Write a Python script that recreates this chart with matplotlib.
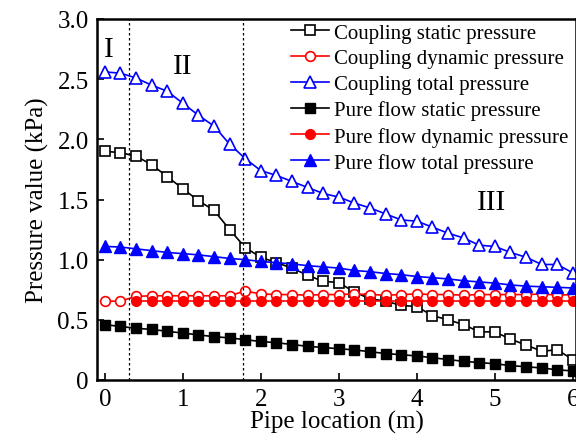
import numpy as np
import matplotlib
matplotlib.use("Agg")
import matplotlib.pyplot as plt

plt.rcParams['font.family'] = ['Liberation Serif', 'DejaVu Serif']

# pipe location (m), every 0.2 m
x = np.arange(31) * 0.2

coup_static = [1.90, 1.89, 1.86, 1.79, 1.69, 1.59, 1.49, 1.41, 1.25, 1.10,
               1.02, 0.975, 0.93, 0.87, 0.82, 0.81, 0.73, 0.675, 0.655, 0.62,
               0.61, 0.535, 0.50, 0.46, 0.40, 0.40, 0.34, 0.29, 0.24, 0.25, 0.17]
coup_dynamic = [0.655, 0.655, 0.695, 0.70, 0.70, 0.70, 0.70, 0.70, 0.70, 0.74,
                0.715, 0.71, 0.71, 0.705, 0.71, 0.71, 0.715, 0.71, 0.705, 0.71,
                0.715, 0.71, 0.71, 0.705, 0.71, 0.71, 0.71, 0.71, 0.715, 0.705, 0.71]
coup_total = [2.56, 2.55, 2.51, 2.45, 2.40, 2.30, 2.20, 2.11, 1.96, 1.84,
              1.74, 1.70, 1.65, 1.60, 1.55, 1.52, 1.47, 1.43, 1.38, 1.33,
              1.32, 1.27, 1.22, 1.18, 1.12, 1.11, 1.06, 1.02, 0.96, 0.96, 0.89]
pure_static = [0.46, 0.445, 0.43, 0.42, 0.405, 0.39, 0.375, 0.36, 0.35, 0.335,
               0.32, 0.31, 0.295, 0.28, 0.27, 0.26, 0.25, 0.235, 0.22, 0.21,
               0.20, 0.185, 0.17, 0.155, 0.145, 0.135, 0.12, 0.11, 0.10, 0.085, 0.075]
pure_dynamic = [np.nan, np.nan] + [0.66] * 29
pure_total = [1.11, 1.105, 1.09, 1.075, 1.06, 1.05, 1.04, 1.025, 1.01, 1.00,
              0.985, 0.975, 0.965, 0.95, 0.94, 0.93, 0.91, 0.90, 0.885, 0.875,
              0.86, 0.85, 0.84, 0.825, 0.815, 0.805, 0.79, 0.78, 0.775, 0.77, 0.765]

region_bounds = [0.31, 1.77]
region_names = ['I', 'II', 'III']
region_label_x = [0.05, 1.0, 4.96]
region_label_y = [2.69, 2.55, 1.425]
yticks = [0, 0.5, 1.0, 1.5, 2.0, 2.5, 3.0]
ytick_labels = ['0', '0.5', '1.0', '1.5', '2.0', '2.5', '3.0']

fig = plt.figure(figsize=(5.76, 4.35), dpi=100)
ax = fig.add_axes([97/576, 54/435, 479/576, 361/435])

ms = 7
lw = 1.2
ax.plot(x, coup_static, 'k-', marker='s', mfc='white', mec='black', ms=ms, lw=lw, mew=1.2,
        label='Coupling static pressure')
ax.plot(x, coup_dynamic, 'r-', marker='o', mfc='white', mec='red', ms=ms, lw=lw, mew=1.2,
        label='Coupling dynamic pressure')
ax.plot(x, coup_total, 'b-', marker='^', mfc='white', mec='blue', ms=ms + 1, lw=lw, mew=1.2,
        label='Coupling total pressure')
ax.plot(x, pure_static, 'k-', marker='s', mfc='black', mec='black', ms=ms, lw=lw,
        label='Pure flow static pressure')
ax.plot(x, pure_dynamic, 'r-', marker='o', mfc='red', mec='red', ms=ms, lw=lw,
        label='Pure flow dynamic pressure')
ax.plot(x, pure_total, 'b-', marker='^', mfc='blue', mec='blue', ms=ms + 1, lw=lw,
        label='Pure flow total pressure')

for xb in region_bounds:
    ax.axvline(xb, color='black', ls=(0, (2, 2)), lw=0.9)

for name, tx, ty in zip(region_names, region_label_x, region_label_y):
    ax.text(tx, ty, name, fontsize=21, ha='center', va='baseline')

ax.set_xlim(-0.1, 6.04)
ax.set_ylim(0, 3.0)
ax.set_xticks(range(7))
ax.set_yticks(yticks)
ax.set_yticklabels(ytick_labels)
ax.tick_params(direction='in', length=5, width=1.2, labelsize=18, pad=6)
for s in ax.spines.values():
    s.set_linewidth(1.8)

ax.set_xlabel('Pipe location (m)', fontsize=18, labelpad=0)
ax.set_ylabel('Pressure value (kPa)', fontsize=18, labelpad=6)

fig.legend(loc='upper left', bbox_to_anchor=(291/576, 1 - 24/435), frameon=False,
           fontsize=15, handlelength=1.8, handletextpad=0.25, labelspacing=0.3,
           borderpad=0, borderaxespad=0)

fig.savefig('out.png', dpi=100)
